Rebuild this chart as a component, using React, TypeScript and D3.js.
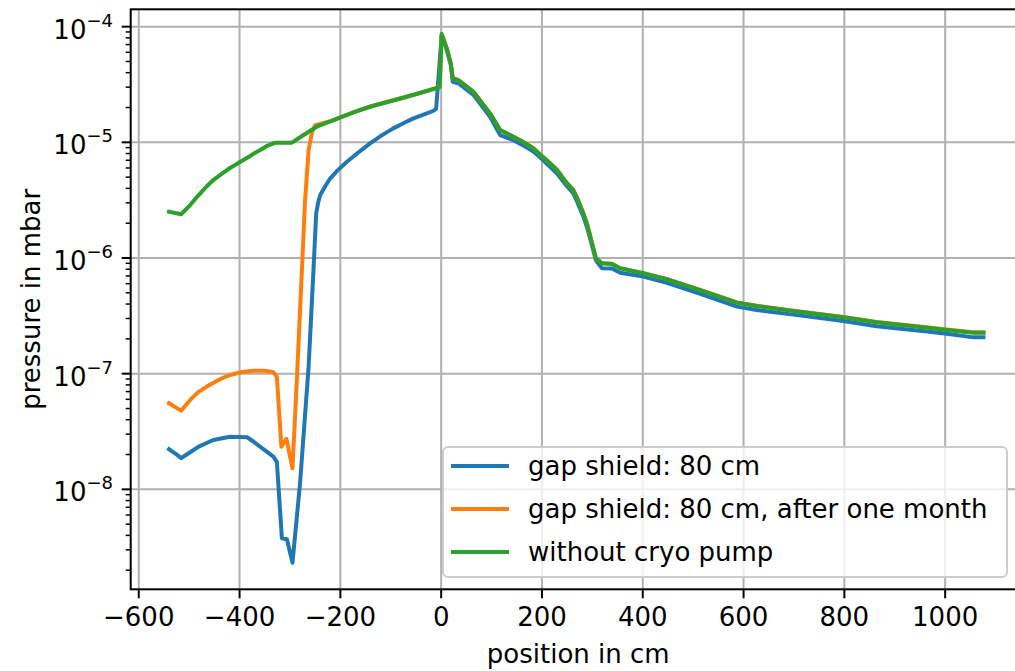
import React from "react";
import * as d3 from "d3";

// Pressure profiles along the beam line (position in cm, pressure in mbar)
const shieldPos = [
  -540, -528, -516, -501, -481, -452, -419, -385, -372, -333, -326, -316, -306, -295,
  -280, -263, -253, -248, -244, -240, -230, -220, -205, -187, -165, -141, -118, -95,
  -75, -55, -35, -15, -10, 1, 11, 19, 23, 34, 64, 97, 117, 143, 160, 183, 200, 216,
  230, 245, 262, 270, 282, 290, 296, 307, 319, 339, 355, 401, 448, 514, 587, 626, 699,
  798, 864, 964, 1003, 1056, 1076,
];
const shieldP = [
  2.22e-8, 2.05e-8, 1.86e-8, 2.05e-8, 2.34e-8, 2.67e-8, 2.85e-8, 2.82e-8, 2.58e-8,
  1.92e-8, 1.73e-8, 3.78e-9, 3.71e-9, 2.32e-9, 1.13e-8, 1.15e-7, 8.41e-7, 2.43e-6,
  3.02e-6, 3.5e-6, 4.17e-6, 4.89e-6, 5.75e-6, 6.79e-6, 8.13e-6, 9.79e-6, 1.148e-5,
  1.32e-5, 1.462e-5, 1.61e-5, 1.738e-5, 1.875e-5, 1.95e-5, 8.4e-5, 6.31e-5, 4.68e-5,
  3.34e-5, 3.24e-5, 2.57e-5, 1.66e-5, 1.156e-5, 1.047e-5, 9.55e-6, 8.32e-6, 7.16e-6,
  6.15e-6, 5.37e-6, 4.42e-6, 3.63e-6, 3.05e-6, 2.29e-6, 1.8e-6, 1.445e-6, 9.55e-7,
  8.15e-7, 8.13e-7, 7.46e-7, 6.92e-7, 6.1e-7, 4.9e-7, 3.8e-7, 3.55e-7, 3.24e-7,
  2.85e-7, 2.57e-7, 2.32e-7, 2.21e-7, 2.06e-7, 2.06e-7,
];

const monthPos = [
  -540, -516, -498, -482, -465, -440, -419, -395, -372, -350, -333, -326, -317, -307,
  -295, -286, -276, -270, -263, -256, -250, -220, -197, -170, -141, -110, -75, -42,
  -12, -3, 1, 11, 19, 23, 34, 64, 97, 117, 143, 160, 183, 200, 216, 230, 245, 262,
  270, 282, 290, 296, 307, 319, 339, 355, 401, 448, 514, 587, 626, 699, 798, 864, 964,
  1003, 1056, 1076,
];
const monthP = [
  5.55e-8, 4.79e-8, 5.93e-8, 6.92e-8, 7.73e-8, 8.91e-8, 9.75e-8, 1.035e-7, 1.06e-7,
  1.06e-7, 1.03e-7, 9.42e-8, 2.34e-8, 2.73e-8, 1.52e-8, 9.42e-8, 8.41e-7, 3.17e-6,
  8.57e-6, 1.236e-5, 1.41e-5, 1.52e-5, 1.67e-5, 1.845e-5, 2.04e-5, 2.22e-5, 2.44e-5,
  2.68e-5, 2.93e-5, 3.03e-5, 8.6e-5, 6.5e-5, 4.83e-5, 3.58e-5, 3.46e-5, 2.74e-5,
  1.78e-5, 1.28e-5, 1.12e-5, 1.026e-5, 8.9e-6, 7.62e-6, 6.6e-6, 5.78e-6, 4.7e-6,
  3.88e-6, 3.3e-6, 2.44e-6, 1.94e-6, 1.53e-6, 9.95e-7, 9.0e-7, 8.9e-7, 8.17e-7,
  7.4e-7, 6.57e-7, 5.3e-7, 4.13e-7, 3.87e-7, 3.5e-7, 3.09e-7, 2.8e-7, 2.52e-7,
  2.41e-7, 2.28e-7, 2.28e-7,
];

const noCryoPos = [
  -540, -516, -498, -488, -478, -465, -452, -435, -419, -399, -379, -369, -359, -345,
  -329, -296, -273, -247, -220, -197, -170, -141, -110, -75, -42, -12, -3, 1, 11, 19,
  23, 34, 64, 97, 117, 143, 160, 183, 200, 216, 230, 245, 262, 270, 282, 290, 296, 307,
  319, 339, 355, 401, 448, 514, 587, 626, 699, 798, 864, 964, 1003, 1056, 1076,
];
const noCryoP = [
  2.51e-6, 2.39e-6, 2.87e-6, 3.24e-6, 3.62e-6, 4.17e-6, 4.72e-6, 5.37e-6, 6.0e-6,
  6.76e-6, 7.62e-6, 8.13e-6, 8.57e-6, 9.33e-6, 9.93e-6, 9.93e-6, 1.156e-5, 1.365e-5,
  1.514e-5, 1.663e-5, 1.84e-5, 2.03e-5, 2.21e-5, 2.43e-5, 2.67e-5, 2.92e-5, 3.0e-5,
  8.63e-5, 6.49e-5, 4.82e-5, 3.57e-5, 3.45e-5, 2.735e-5, 1.78e-5, 1.276e-5, 1.117e-5,
  1.023e-5, 8.87e-6, 7.59e-6, 6.59e-6, 5.77e-6, 4.68e-6, 3.87e-6, 3.28e-6, 2.43e-6,
  1.93e-6, 1.528e-6, 9.93e-7, 8.99e-7, 8.87e-7, 8.15e-7, 7.38e-7, 6.55e-7, 5.28e-7,
  4.11e-7, 3.85e-7, 3.48e-7, 3.07e-7, 2.78e-7, 2.5e-7, 2.39e-7, 2.26e-7, 2.26e-7,
];

const xTicks = [-600, -400, -200, 0, 200, 400, 600, 800, 1000];
const yExponents = [-8, -7, -6, -5, -4];
const seriesLabels = [
  "gap shield: 80 cm",
  "gap shield: 80 cm, after one month",
  "without cryo pump",
];
const seriesColors = ["#1f77b4", "#ff7f0e", "#2ca02c"];

const W = 1015;
const H = 671;
const FONT = "DejaVu Sans, sans-serif";
const FS = 26;

export default function App() {
  const left = 130.7;
  const right = 1025.8;
  const top = 9.3;
  const bottom = 589.3;

  const x = d3.scaleLinear().domain([-616, 1160]).range([left, right]);
  const y = d3
    .scaleLog()
    .domain([Math.pow(10, -8.864), Math.pow(10, -3.85)])
    .range([bottom, top]);

  const line = d3
    .line<[number, number]>()
    .x((d) => x(d[0]))
    .y((d) => y(d[1]));

  const series = [
    d3.zip(shieldPos, shieldP) as [number, number][],
    d3.zip(monthPos, monthP) as [number, number][],
    d3.zip(noCryoPos, noCryoP) as [number, number][],
  ];

  const [yLo, yHi] = y.domain();
  const minorTicks: number[] = [];
  for (let e = -9; e <= -4; e++) {
    for (let m = 2; m <= 9; m++) {
      const v = m * Math.pow(10, e);
      if (v >= yLo && v <= yHi) minorTicks.push(v);
    }
  }

  const legX = 443;
  const legY = 447;
  const legW = 564;
  const legH = 130;
  const rowY = [466, 509, 552];

  return (
    <svg
      width={W}
      height={H}
      style={{ position: "fixed", left: 0, top: 0, background: "#fff" }}
      fontFamily={FONT}
    >
      <rect x={0} y={0} width={W} height={H} fill="#fff" />
      <defs>
        <clipPath id="plot-area">
          <rect x={left} y={top} width={right - left} height={bottom - top} />
        </clipPath>
      </defs>

      {/* grid */}
      <g stroke="#b0b0b0" strokeWidth={2}>
        {xTicks.map((t) => (
          <line key={"gx" + t} x1={x(t)} x2={x(t)} y1={top} y2={bottom} />
        ))}
        {yExponents.map((e) => (
          <line
            key={"gy" + e}
            x1={left}
            x2={right}
            y1={y(Math.pow(10, e))}
            y2={y(Math.pow(10, e))}
          />
        ))}
      </g>

      {/* data lines */}
      <g clipPath="url(#plot-area)" fill="none">
        {series.map((s, i) => (
          <path
            key={i}
            d={line(s) ?? ""}
            stroke={seriesColors[i]}
            strokeWidth={4}
            strokeLinejoin="round"
            strokeLinecap="square"
          />
        ))}
      </g>

      {/* spines */}
      <rect
        x={left}
        y={top}
        width={right - left}
        height={bottom - top}
        fill="none"
        stroke="#000"
        strokeWidth={2}
      />

      {/* x axis ticks */}
      <g>
        {xTicks.map((t) => (
          <g key={"xt" + t}>
            <line x1={x(t)} x2={x(t)} y1={bottom} y2={bottom + 9} stroke="#000" strokeWidth={2} />
            <text
              x={x(t)}
              y={bottom + 37}
              textAnchor="middle"
              fontSize={FS}
              fill="#000"
            >
              {t < 0 ? "\u2212" + Math.abs(t) : String(t)}
            </text>
          </g>
        ))}
        <text
          x={(left + right) / 2}
          y={663}
          textAnchor="middle"
          fontSize={FS}
          fill="#000"
        >
          position in cm
        </text>
      </g>

      {/* y axis ticks */}
      <g>
        {minorTicks.map((v, i) => (
          <line
            key={"ym" + i}
            x1={left - 5}
            x2={left}
            y1={y(v)}
            y2={y(v)}
            stroke="#000"
            strokeWidth={1.5}
          />
        ))}
        {yExponents.map((e) => {
          const yy = y(Math.pow(10, e));
          return (
            <g key={"yt" + e}>
              <line x1={left - 9} x2={left} y1={yy} y2={yy} stroke="#000" strokeWidth={2} />
              <text x={113} y={yy + 12} textAnchor="end" fill="#000" fontSize={FS}>
                <tspan>10</tspan>
                <tspan fontSize={18} dy={-12}>
                  {"\u2212" + Math.abs(e)}
                </tspan>
              </text>
            </g>
          );
        })}
        <text
          transform={`translate(40, ${(top + bottom) / 2}) rotate(-90)`}
          textAnchor="middle"
          fontSize={FS}
          fill="#000"
        >
          pressure in mbar
        </text>
      </g>

      {/* legend */}
      <g>
        <rect
          x={legX}
          y={legY}
          width={legW}
          height={legH}
          rx={5}
          fill="#fff"
          fillOpacity={0.8}
          stroke="#cccccc"
          strokeWidth={2}
        />
        {seriesLabels.map((label, i) => (
          <g key={label}>
            <line
              x1={legX + 10}
              x2={legX + 64}
              y1={rowY[i]}
              y2={rowY[i]}
              stroke={seriesColors[i]}
              strokeWidth={4}
              strokeLinecap="square"
            />
            <text x={legX + 85} y={rowY[i] + 9} fontSize={FS} fill="#000">
              {label}
            </text>
          </g>
        ))}
      </g>
    </svg>
  );
}
